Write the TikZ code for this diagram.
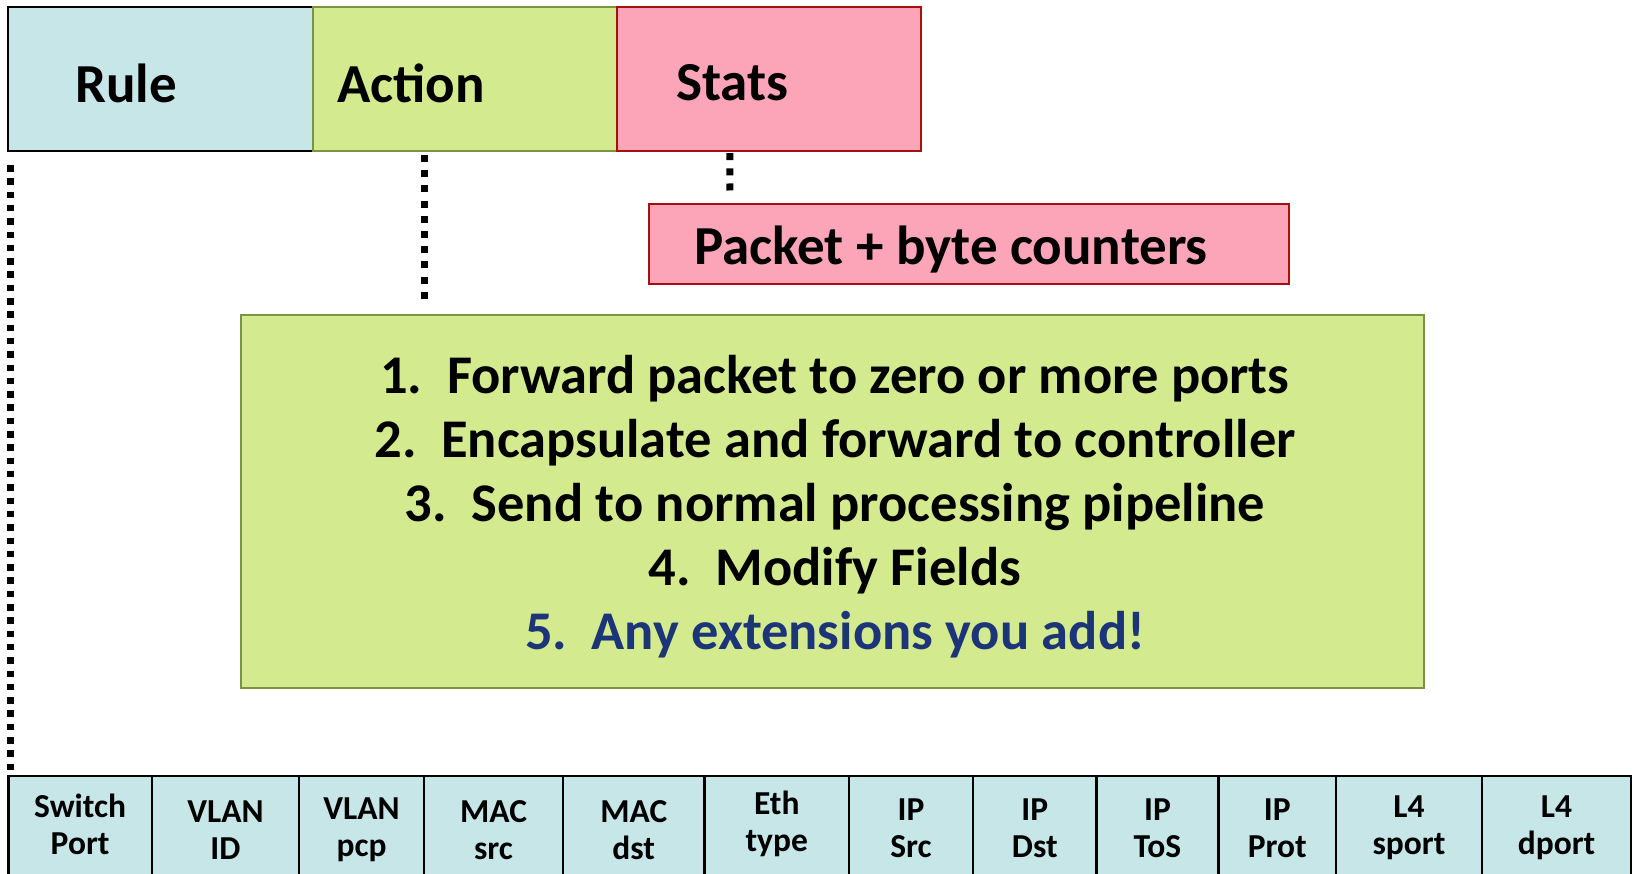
\documentclass[tikz,border=0pt]{standalone}
\usepackage{fontspec}
\setmainfont{Carlito}
\usetikzlibrary{calc}
\definecolor{rulefill}{RGB}{198,230,232}
\definecolor{actfill}{RGB}{212,234,142}
\definecolor{actline}{RGB}{122,148,68}
\definecolor{statfill}{RGB}{252,164,184}
\definecolor{statline}{RGB}{166,16,16}
\definecolor{extblue}{RGB}{28,52,120}
\begin{document}
\begin{tikzpicture}[x=1pt,y=-1pt,
  box/.style={rectangle,inner sep=0pt,outer sep=0pt,line width=2pt,anchor=north west},
  toplabel/.style={anchor=west,inner sep=0pt,font=\fontsize{55}{60}\selectfont\bfseries},
  cell/.style={rectangle,inner sep=0pt,outer sep=0pt,draw=black,line width=2.5pt,fill=rulefill,anchor=north west,minimum height=108pt},
  celltext/.style={align=center,inner sep=0pt,font=\fontsize{33.5}{37}\selectfont\bfseries},
  dotA/.style={line width=6.5pt,dash pattern=on 6.5pt off 6.8pt,line cap=butt},
  dotB/.style={line width=7pt,dash pattern=on 7pt off 8.2pt,line cap=butt}]
\useasboundingbox (0,0) rectangle (1634,874);
\clip (0,0) rectangle (1634,874);
% top row
\node[box,fill=rulefill,draw=black,minimum width=304.3pt,minimum height=143.8pt] (rule) at (8.3,7.3) {};
\node[box,fill=actfill,draw=actline,minimum width=304.3pt,minimum height=143.8pt] (action) at (312.6,7.3) {};
\node[box,fill=statfill,draw=statline,minimum width=304.3pt,minimum height=143.8pt] (stats) at (616.9,7.3) {};
\node[toplabel] (rulet) at (75,83) {Rule};
\node[toplabel] (actiont) at (337,83) {Action};
\node[toplabel] (statst) at (676,83) {Stats};
% packet counters
\node[box,fill=statfill,draw=statline,minimum width=640pt,minimum height=80.5pt] (packet) at (649,204) {};
\node[font=\fontsize{55}{60}\selectfont\bfseries,inner sep=0pt] (packett) at (951,250) {Packet + byte counters};
% action list
\node[box,fill=actfill,draw=actline,minimum width=1182.8pt,minimum height=373pt] (big) at (240.7,314.7) {};
\node[align=center,inner sep=0pt,font=\fontsize{54.5}{64}\selectfont\bfseries] (list) at (835,507) {%
1.\ \ Forward packet to zero or more ports\\
2.\ \ Encapsulate and forward to controller\\
3.\ \ Send to normal processing pipeline\\
4.\ \ Modify Fields\\
\textcolor{extblue}{5.\ \ Any extensions you add!}};
% header fields
\foreach \n/\a/\b/\o/\t in {
  sp/8.3/152/-6/{Switch\\Port},
  vid/152/299/0/{VLAN\\ID},
  vpcp/299/424/0/{VLAN\\pcp},
  msrc/424/563/0/{MAC\\src},
  mdst/563/704.5/0/{MAC\\dst},
  eth/704.5/849/-6/{Eth\\type},
  ipsrc/849/973/-2/{IP\\Src},
  ipdst/973/1096.5/-2/{IP\\Dst},
  iptos/1096.5/1218.5/-2/{IP\\ToS},
  ipprot/1218.5/1336/-2/{IP\\Prot},
  sport/1336/1482/-2/{L4\\sport},
  dport/1482/1631/-2/{L4\\dport}}{
  \node[cell,minimum width={(\b-\a)*1pt}] (\n) at (\a,776) {};
  \node[celltext] (\n t) at ($(\n.center)+(0,\o)$) {\t};
}
% dotted connectors
\draw[dotA] ($(rule.south west)+(2,14)$) -- ($(sp.north west)+(2,-4)$);
\draw[dotB] ($(action.south west)+(111.4,4)$) -- ($(big.north west)+(183.3,-16)$);
\draw[dotB] ($(stats.south west)+(113,2)$) -- ($(packet.north west)+(81,-7)$);
\end{tikzpicture}
\end{document}
